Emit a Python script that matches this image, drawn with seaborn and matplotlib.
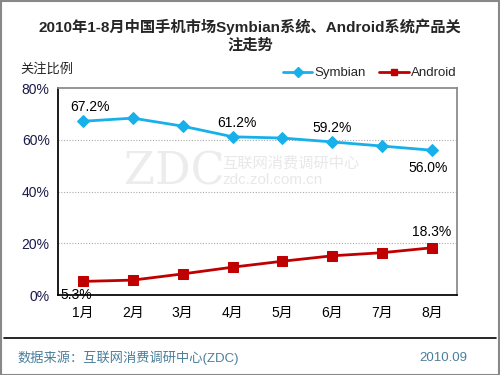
import numpy as np
import pandas as pd
import seaborn as sns
import matplotlib.pyplot as plt
from matplotlib.lines import Line2D

months = ["1月", "2月", "3月", "4月", "5月", "6月", "7月", "8月"]
symbian = [67.2, 68.4, 65.3, 61.2, 60.7, 59.2, 57.6, 56.0]
android = [5.3, 5.8, 8.2, 10.8, 13.1, 15.2, 16.4, 18.3]
yticks = [0, 20, 40, 60, 80]

sns.set_theme(style="white")
plt.rcParams["font.family"] = ["Liberation Sans", "Noto Sans CJK SC", "DejaVu Sans"]

df = pd.DataFrame({
    "month": months * 2,
    "pos": list(range(len(months))) * 2,
    "value": symbian + android,
    "series": ["Symbian"] * len(months) + ["Android"] * len(months),
})

colors = {"Symbian": "#18b0ea", "Android": "#c00000"}
markers = {"Symbian": "D", "Android": "s"}

fig = plt.figure(figsize=(5, 3.75), dpi=100)
ax = fig.add_axes([0.116, 0.213, 0.798, 0.552])

for name in ["Symbian", "Android"]:
    sub = df[df["series"] == name]
    sns.lineplot(data=sub, x="pos", y="value", color=colors[name], marker=markers[name],
                 markersize=6 if name == "Symbian" else 7, markeredgecolor=colors[name],
                 linewidth=2, ax=ax, legend=False)

ax.set_xlim(-0.5, len(months) - 0.5)
ax.set_ylim(0, 80)
ax.set_yticks(yticks)
ax.set_yticklabels([f"{v}%" for v in yticks], fontsize=10, color="#1a1a4a")
ax.set_xticks(range(len(months)))
ax.set_xticklabels(months, fontsize=10, color="black")
ax.tick_params(axis="x", length=0, pad=8)
ax.tick_params(axis="y", length=0, pad=6)
ax.set_xticks(np.arange(0.5, len(months) - 0.5, 1), minor=True)
ax.tick_params(axis="x", which="minor", direction="in", length=4, color="black")
ax.set_xlabel("")
ax.set_ylabel("")
for v in [20, 40, 60]:
    ax.axhline(v, color="#aaaaaa", linestyle=(0, (1, 1.5)), linewidth=0.8, zorder=0)
ax.spines["left"].set_color("black")
ax.spines["bottom"].set_color("black")
ax.spines["top"].set_color("#888888")
ax.spines["right"].set_color("#888888")

# data labels
def lab(i, vals, dx, dy, ha="center"):
    ax.annotate(f"{vals[i]:.1f}%", (i, vals[i]), xytext=(dx, dy), textcoords="offset points",
                ha=ha, va="center", fontsize=10, color="black")

lab(0, symbian, 5, 10)
lab(3, symbian, 3, 10)
lab(5, symbian, 0, 10)
lab(7, symbian, -3, -13)
lab(0, android, -5, -10)
lab(7, android, 0, 11)

# watermark
fig.text(0.348, 0.541, "ZDC", fontsize=32, color="#ececec", ha="center", va="center",
         family=["DejaVu Serif"], zorder=0)
fig.text(0.444, 0.565, "互联网消费调研中心", fontsize=11, color="#e8e8e8", ha="left", va="center", zorder=0)
fig.text(0.444, 0.52, "zdc.zol.com.cn", fontsize=11, color="#e8e8e8", ha="left", va="center", zorder=0)

fig.text(0.5, 0.905, "2010年1-8月中国手机市场Symbian系统、Android系统产品关\n注走势",
         ha="center", va="center", fontsize=11, fontweight="bold", linespacing=1.35)
fig.text(0.04, 0.815, "关注比例", fontsize=9.5, ha="left", va="center")

handles = [Line2D([], [], color=colors[n], marker=markers[n], markersize=5, linewidth=2) for n in ["Symbian", "Android"]]
fig.legend(handles, ["Symbian", "Android"], loc="center", bbox_to_anchor=(0.74, 0.805), ncol=2,
           frameon=False, fontsize=9.5, handlelength=2.2, columnspacing=1.0, handletextpad=0.2)

fig.add_artist(Line2D([0.008, 0.992], [0.098, 0.098], color="black", linewidth=1.2))
fig.text(0.035, 0.045, "数据来源：互联网消费调研中心(ZDC)", fontsize=9.5, color="#4a7f9c", ha="left", va="center")
fig.text(0.935, 0.045, "2010.09", fontsize=9.5, color="#4a7f9c", ha="right", va="center")
fig.add_artist(plt.Rectangle((0.001, 0.001), 0.997, 0.997, fill=False, edgecolor="#888888",
                             linewidth=1.5, transform=fig.transFigure))

fig.savefig("out.png", dpi=100)
